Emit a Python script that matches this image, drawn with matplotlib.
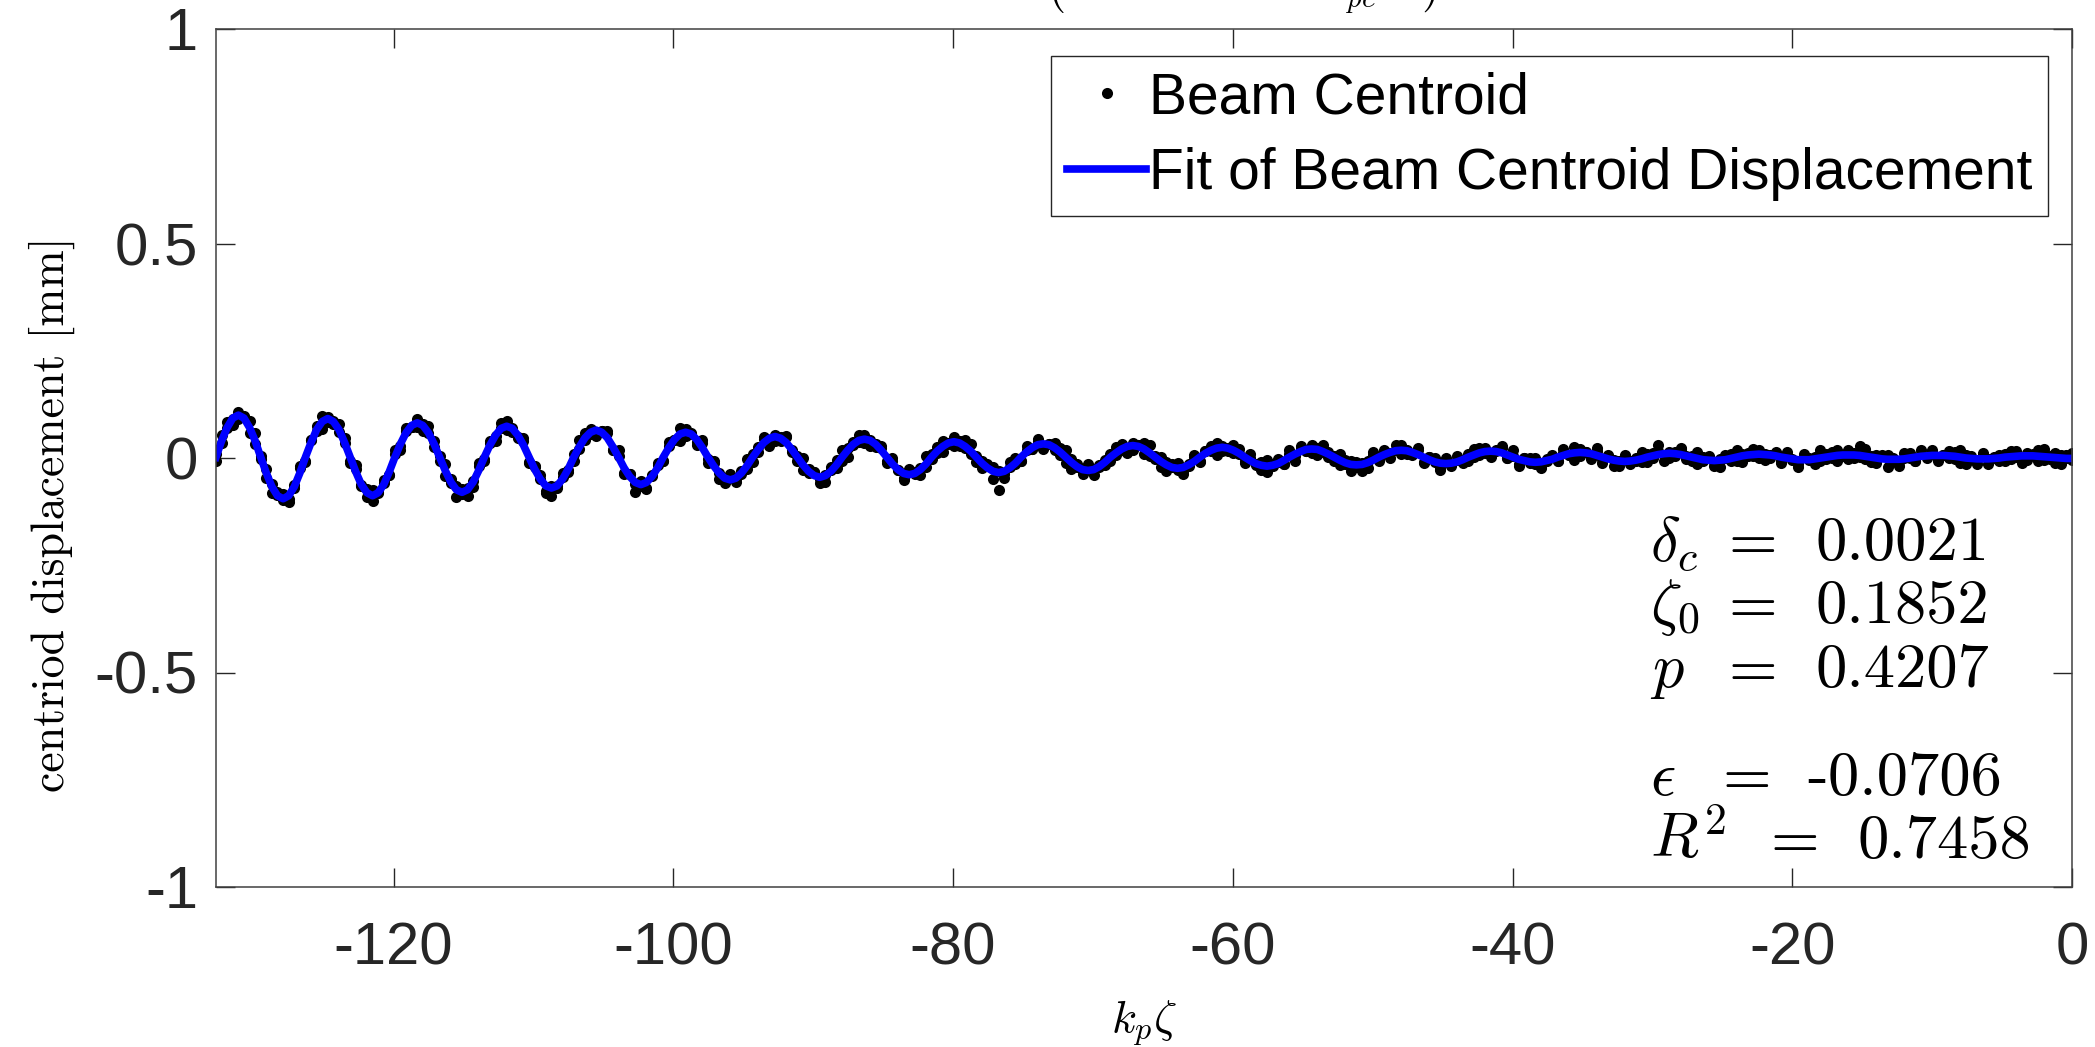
import numpy as np
import matplotlib
matplotlib.use('Agg')
import matplotlib.pyplot as plt

plt.rcParams['mathtext.fontset'] = 'cm'
plt.rcParams['axes.unicode_minus'] = False
plt.rcParams['font.family'] = ['Liberation Sans', 'DejaVu Sans']

# k_p*zeta range of the samples
x_start = -132.7
x_end = 0.0

# beam centroid displacement, in micrometres;
# two shots per sample position
centroid_a_um = [
    10, 35, 83, 90, 90, 97, 86, 33,  4, -47, -61, -79, -99, -103, -64, -24,
    -6, 41, 64, 98, 83, 86, 60, 46,  -11, -25, -62, -92, -74, -82, -58, -39,
    10, 28, 71, 73, 72, 80, 74, 26,  4, -41, -50, -65, -84, -89, -53, -18,
    -6, 35, 51, 82, 65, 70, 47, 40,  -11, -19, -49, -76, -88, -66, -45, -33,
    10, 21, 59, 57, 55, 64, 62, 19,  4, -35, -37, -80, -66, -72, -40, -12,
    -6, 29, 41, 69, 51, 57, 37, 34,  -11, -11, -35, -58, -37, -48, -31, -25,
    10, 15, 48, 43, 40, 50, 51, 13,  4, -28, -25, -32, -49, -56, -28, -5,
    -6, 23, 30, 54, 35, 42, 26, 28,  -11, -7, -27, -47, -25, -37, -23, -21,
    10, 11, 39, 32, 28, 39, 42, 9,  4, -24, -17, -22, -75, -46, -20, -1,
    -6, 19, 22, 44, 24, 32, 18, 24,  -11, -3, -20, -38, -15, -28, -16, -17,
    10, 7, 33, 24, 19, 31, 36, 5,  4, -20, -10, -13, -28, -37, -13, 3,
    -6, 16, 16, 36, 16, 24, 12, 21,  -11, 1, -13, -28, -5, -18, -9, -13,
    10, 4, 27, 17, 11, 24, 30, 2,  4, -17, -5, -6, -20, -30, -8, 6,
    -6, 13, 11, 30, 9, 18, 7, 18,  -11, 3, -9, -23, 1, -13, -5, -11,
    10, 2, 24, 12, 6, 19, 27, 0,  4, -15, 0, 0, -14, -24, -3, 8,
    -6, 11, 8, 25, 4, 13, 4, 16,  -11, 5, -5, -18, 6, -8, -1, -9,
    10, 0, 30, 7, 1, 14, 23, -2,  4, -13, 2, 4, -10, -21, -1, 10,
    -6, 10, 5, 21, 0, 9, 1, 15,  -11, 7, -2, -15, 10, -5, 2, -7,
    10, -1, 18, 4, -3, 11, 28, -3,  4, -12, 4, 6, -7, -18, 1, 11,
    -6, 9, 3, 19, -3, 7, -1, 14,  -11, 7, -1, -13, 12, -3, 3, -7,
    10, -2, 16, 2, -5, 9, 19, -4,  4, -11, 6, 8, -5,
]
centroid_b_um = [
    -7, 54, 69, 77, 107, 96, 59, 58,  -3, -25, -81, -87, -83, -96, -70, -19,
    -9, 42, 75, 68, 96, 79, 79, 35,  -8, -17, -66, -73, -101, -79, -51, -39,
    19, 18, 64, 73, 91, 64, 59, 39,  -7, -15, -58, -90, -73, -71, -68, -11,
    -3, 40, 39, 70, 86, 61, 50, 46,  -9, -20, -40, -82, -66, -71, -36, -27,
    -8, 41, 43, 68, 52, 62, 58, 19,  19, -38, -38, -60, -53, -69, -43, -17,
    -7, 38, 41, 40, 67, 59, 31, 42,  -3, -8, -49, -46, -39, -55, -38, -2,
    -9, 26, 45, 29, 54, 40, 49, 19,  -8, -1, -35, -33, -58, -39, -20, -23,
    19, 3, 37, 38, 53, 29, 32, 24,  -7, 0, -29, -52, -32, -33, -39, 4,
    -3, 26, 13, 36, 50, 27, 24, 32,  -9, -6, -14, -48, -30, -37, -10, -13,
    -8, 29, 20, 39, 20, 33, 35, 7,  19, -25, -15, -30, -20, -39, -20, -4,
    -7, 26, 19, 11, 36, 30, 9, 30,  -3, 2, -30, -21, -12, -30, -19, 8,
    -9, 17, 27, 6, 29, 17, 31, 10,  -8, 9, -17, -9, -32, -15, -2, -13,
    19, -6, 20, 17, 30, 8, 15, 15,  -7, 9, -13, -31, -9, -12, -23, 13,
    -3, 18, -1, 18, 30, 9, 10, 24,  -9, 2, 0, -29, -9, -18, 4, -5,
    -8, 22, 8, 23, 3, 17, 23, 0,  19, -18, -1, -12, -1, -21, -6, 3,
    -7, 20, 8, -4, 20, 15, -2, 24,  -3, 8, -19, -6, 4, -15, -8, 14,
    -9, 11, 17, -7, 15, 4, 21, 4,  -8, 14, -8, 3, -19, -3, 7, -8,
    19, -10, 12, 5, 18, -4, 7, 11,  -7, 14, -4, -20, 3, -1, -14, 18,
    -3, 14, -8, 8, 19, -1, 3, 20,  -9, 6, 7, -20, 1, -9, 11, -1,
    -8, 19, 1, 14, -7, 8, 16, -3,  19, -15, 4, -5, 7, -14, -1, 6,
    -7, 17, 2, -11, 12, 8, -8, 21,  -3, 11, -14, 0, 11,
]

# fitted curve, in micrometres
fit_um = [
    2, 40, 71, 93, 100, 93, 71, 40,  2, -35, -67, -88, -95, -88, -67, -35,
    2, 36, 66, 85, 92, 85, 66, 36,  2, -32, -62, -81, -88, -81, -62, -32,
    2, 33, 59, 76, 82, 76, 59, 33,  2, -29, -56, -74, -80, -74, -56, -29,
    2, 30, 53, 69, 74, 69, 53, 30,  2, -26, -49, -65, -70, -65, -49, -26,
    2, 26, 47, 60, 65, 60, 47, 26,  2, -23, -43, -57, -62, -57, -43, -23,
    2, 24, 43, 56, 60, 56, 43, 24,  2, -18, -35, -47, -51, -47, -35, -18,
    2, 20, 36, 46, 50, 46, 36, 20,  2, -16, -31, -41, -45, -41, -31, -16,
    2, 18, 32, 41, 44, 41, 32, 18,  2, -14, -27, -36, -39, -36, -27, -14,
    2, 16, 27, 35, 38, 35, 27, 16,  2, -12, -23, -31, -34, -31, -23, -12,
    2, 14, 24, 31, 33, 31, 24, 14,  2, -10, -20, -27, -29, -27, -20, -10,
    2, 12, 21, 27, 29, 27, 21, 12,  2, -8, -16, -22, -24, -22, -16, -8,
    2, 11, 18, 23, 25, 23, 18, 11,  2, -6, -13, -17, -19, -17, -13, -6,
    2, 9, 15, 20, 21, 20, 15, 9,  2, -5, -11, -15, -16, -15, -11, -5,
    2, 8, 13, 17, 18, 17, 13, 8,  2, -4, -9, -12, -13, -12, -9, -4,
    2, 7, 12, 15, 16, 15, 12, 7,  2, -3, -6, -9, -10, -9, -6, -3,
    2, 6, 10, 12, 13, 12, 10, 6,  2, -2, -5, -7, -8, -7, -5, -2,
    2, 5, 8, 10, 11, 10, 8, 5,  2, -1, -4, -5, -6, -5, -4, -1,
    2, 5, 7, 8, 9, 8, 7, 5,  2, 0, -2, -4, -4, -4, -2, 0,
    2, 4, 6, 7, 7, 7, 6, 4,  2, 0, -2, -3, -3, -3, -2, 0,
    2, 4, 5, 6, 6, 6, 5, 4,  2, 0, -1, -2, -2, -2, -1, 0,
    2, 3, 4, 5, 5, 5, 4, 3,  2, 1, 0, -1, -1,
]

# fit parameters printed in the corner
param_labels = [r'$\delta_c$', r'$\zeta_0$', r'$p$', r'$\epsilon$', r'$R^2$']
param_values = ['0.0021', '0.1852', '0.4207', '-0.0706', '0.7458']

x_ticks = [-120, -100, -80, -60, -40, -20, 0]
y_ticks = [-1, -0.5, 0, 0.5, 1]

W, H = 2095, 1047
fig = plt.figure(figsize=(W / 100, H / 100), dpi=100)
ax = fig.add_axes([216 / W, 1 - 887 / H, (2072 - 216) / W, (887 - 29) / H])

x_dat = np.linspace(x_start, x_end, len(centroid_a_um))
x_fit = np.linspace(x_start, x_end, len(fit_um))
y_dat = np.concatenate([centroid_a_um, centroid_b_um]) / 1000
ax.plot(np.concatenate([x_dat, x_dat]), y_dat, ls='none', marker='o', ms=8,
        mew=0, color='black', label='Beam Centroid')
ax.plot(x_fit, np.array(fit_um) / 1000, color='#0000ff', lw=5.5,
        solid_joinstyle='round', label='Fit of Beam Centroid Displacement')

ax.set_xlim(x_start, x_end)
ax.set_ylim(-1, 1)
ax.set_xticks(x_ticks)
ax.set_yticks(y_ticks)
ax.set_xticklabels([str(t) for t in x_ticks])
ax.set_yticklabels(['-1', '-0.5', '0', '0.5', '1'])
ax.tick_params(direction='in', length=13.4, width=1, color='#262626',
               labelsize=43, labelcolor='#262626', top=True, right=True)
ax.tick_params(axis='x', pad=25)
ax.tick_params(axis='y', pad=13)
for s in ax.spines.values():
    s.set_color('#404040')
    s.set_linewidth(1.1)

ax.set_ylabel('centriod displacement [mm]', fontfamily='cmr10', fontsize=33)
ax.yaxis.set_label_coords(-0.076, 0.434)
ax.set_xlabel(r'$k_p\zeta$', fontsize=33)
ax.xaxis.set_label_coords(0.5, -0.13)

leg = ax.legend(loc='upper right', bbox_to_anchor=((2048 - 216) / 1856, (887 - 56) / 858),
                borderaxespad=0, fontsize=41, fancybox=False, framealpha=1,
                edgecolor='#262626', borderpad=0.27, labelspacing=0.38,
                handlelength=1.4, handletextpad=0.05, numpoints=1)
leg.get_frame().set_linewidth(1.0)

# parameter block, one row per text
rows_y = [560, 623, 687, 795, 858]
eq_x = [1728, 1728, 1728, 1722, 1770]
val_x = [1815, 1815, 1815, 1807, 1857]
for lab, val, yy, ex, vx in zip(param_labels, param_values, rows_y, eq_x, val_x):
    fig.text(1650 / W, 1 - yy / H, lab, fontsize=45, va='baseline', ha='left')
    fig.text(ex / W, 1 - yy / H, '=', fontfamily='cmr10', fontsize=45, va='baseline', ha='left')
    fig.text(vx / W, 1 - yy / H, val, fontfamily='cmr10', fontsize=45, va='baseline', ha='left')

# title sits above the canvas, only its lower edge shows
fig.text(1045 / W, 1 + 2 / H, 'Centroid Oscillation ', fontfamily='cmr10', fontsize=30,
         va='baseline', ha='right')
fig.text(1045 / W, 1 + 2 / H, r'$\left(\mathrm{normalized\ to\ }k_{pc}^{-1}\;\;\;\right)$',
         fontsize=30, va='baseline', ha='left')

fig.savefig('out.png', dpi=100)
